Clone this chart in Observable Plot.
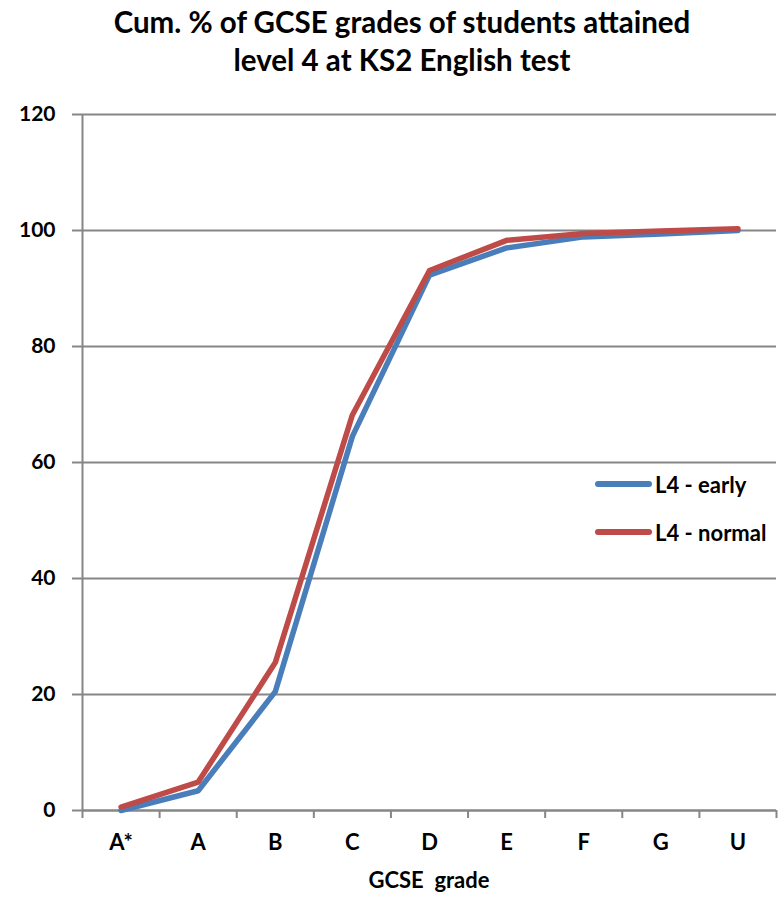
<!DOCTYPE html>
<html>
<head>
<meta charset="utf-8">
<script src="https://cdn.jsdelivr.net/npm/d3@7"></script>
<script src="https://cdn.jsdelivr.net/npm/@observablehq/plot@0.6"></script>
<style>
  html, body { margin: 0; padding: 0; background: #fff; overflow: hidden; }
  #wrap { position: relative; width: 778px; height: 898px; font-family: Lato, "Open Sans", sans-serif; overflow: hidden; }
  #title { height: 90px; text-align: center; font-weight: 700; font-size: 29.5px; line-height: 38px; padding-top: 3px; padding-left: 26px; box-sizing: border-box; color: #000; white-space: nowrap; }
  #chart { height: 808px; }
  #chart svg { display: block; }
  #legend { position: absolute; left: 595px; top: 460px; font-size: 22px; font-weight: 700; color: #000; white-space: nowrap; }
  .li { display: flex; align-items: center; height: 48px; }
  .sw { width: 57px; height: 6px; border-radius: 3px; margin-right: 3px; }
  #xtitle { position: absolute; left: 82px; width: 694px; top: 865px; height: 30px; line-height: 30px; text-align: center; font-weight: 700; font-size: 22px; color: #000; white-space: pre; }
</style>
</head>
<body>
<div id="wrap">
  <div id="title">Cum. % of GCSE grades of students attained<br>level 4 at KS2 English test</div>
  <div id="chart"></div>
  <div id="legend"></div>
  <div id="xtitle"></div>
</div>
<script>
const grades = ["A*", "A", "B", "C", "D", "E", "F", "G", "U"];
const early = [0, 3.4, 20.5, 64.5, 92.3, 97.0, 98.9, 99.4, 100];
const normal = [0.6, 4.9, 25.5, 68.2, 93.1, 98.3, 99.5, 99.9, 100.3];
const seriesNames = ["L4 - early", "L4 - normal"];
const seriesColors = ["#4a7ebb", "#be4b48"];
const yTicks = [0, 20, 40, 60, 80, 100, 120];
const xTitle = "GCSE  grade";

const idx = grades.map((_, i) => i);
const bounds = d3.range(grades.length + 1).map(i => i - 0.5);
const rows = [
  ...early.map((v, i) => ({i, v, s: seriesNames[0]})),
  ...normal.map((v, i) => ({i, v, s: seriesNames[1]}))
];

const chart = Plot.plot({
  width: 778,
  height: 808,
  marginTop: 24,
  marginBottom: 88,
  marginLeft: 82,
  marginRight: 2,
  style: {fontFamily: "Lato, 'Open Sans', sans-serif", color: "#000", overflow: "visible"},
  x: {type: "linear", domain: [-0.5, grades.length - 0.5]},
  y: {domain: [0, 120]},
  color: {domain: seriesNames, range: seriesColors},
  marks: [
    Plot.gridY(yTicks, {stroke: "#868686", strokeOpacity: 1, strokeWidth: 2}),
    Plot.ruleX([-0.5], {y1: 0, y2: 120, stroke: "#868686", strokeWidth: 2}),
    Plot.ruleY([0], {stroke: "#868686", strokeWidth: 2}),
    Plot.axisY(yTicks, {tickSize: 10, tickPadding: 17, stroke: "#868686", strokeWidth: 2, fontWeight: 700, fontSize: 21, label: null}),
    Plot.axisX(bounds, {tickSize: 8, tickFormat: () => "", stroke: "#868686", strokeWidth: 2, label: null}),
    Plot.axisX(idx, {tickSize: 0, tickPadding: 24, tickFormat: i => grades[i], fontWeight: 700, fontSize: 22, label: null}),
    Plot.line(rows, {x: "i", y: "v", stroke: "s", z: "s", strokeWidth: 5.5})
  ]
});
document.getElementById("chart").appendChild(chart);
document.getElementById("xtitle").textContent = xTitle;

const lg = document.getElementById("legend");
seriesNames.forEach((n, k) => {
  const d = document.createElement("div");
  d.className = "li";
  d.innerHTML = `<span class="sw" style="background:${seriesColors[k]}"></span><span>${n}</span>`;
  lg.appendChild(d);
});
</script>
</body>
</html>
